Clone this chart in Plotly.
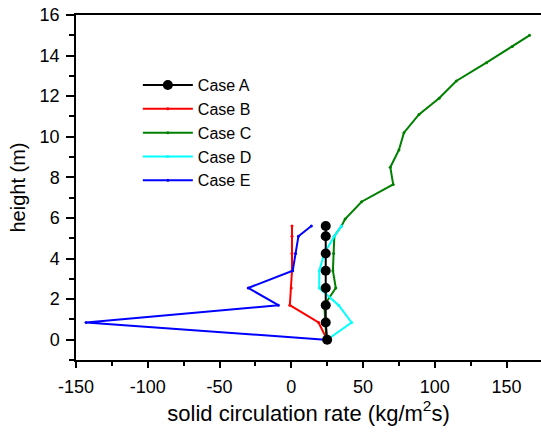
import plotly.graph_objects as go

heights_short = [0, 0.85, 1.7, 2.55, 3.4, 4.25, 5.1, 5.6]
case_a = [25, 24, 24, 24, 24, 24, 24, 24]
case_b = [25, 19, -1, 0, 0.5, 0.5, 0.5, 0.5]
case_d = [25, 42, 33, 19.5, 19.5, 23, 30, 35]
case_e = [23.5, -143, -9, -30, 1, 3, 5, 14]

heights_c = [0, 0.85, 1.7, 2.55, 3.4, 4.25, 5.1, 5.6, 5.95, 6.8, 7.65, 8.5,
             9.35, 10.2, 11.1, 11.9, 12.75, 13.65, 14.45, 15.0]
case_c = [24.5, 24, 23, 31, 29, 29.5, 30, 35, 37.5, 49, 71, 69,
          75, 78.5, 89, 103, 115, 136, 154, 166]

x_tickvals = [-150, -100, -50, 0, 50, 100, 150]
x_ticktext = ["-150", "-100", "-50", "0", "50", "100", "150"]
y_tickvals = [0, 2, 4, 6, 8, 10, 12, 14, 16]
y_ticktext = ["0", "2", "4", "6", "8", "10", "12", "14", "16"]

FONT = "Liberation Sans, Arial, sans-serif"

fig = go.Figure()
fig.add_trace(go.Scatter(x=case_b, y=heights_short, name="Case B", mode="lines+markers",
                         line=dict(color="#ff0000", width=2), marker=dict(size=3, color="#ff0000")))
fig.add_trace(go.Scatter(x=case_c, y=heights_c, name="Case C", mode="lines+markers",
                         line=dict(color="#008000", width=2), marker=dict(size=3, color="#008000")))
fig.add_trace(go.Scatter(x=case_d, y=heights_short, name="Case D", mode="lines+markers",
                         line=dict(color="#00ffff", width=2), marker=dict(size=3, color="#00ffff")))
fig.add_trace(go.Scatter(x=case_e, y=heights_short, name="Case E", mode="lines+markers",
                         line=dict(color="#0000ff", width=2), marker=dict(size=3, color="#0000ff")))
fig.add_trace(go.Scatter(x=case_a, y=heights_short, name="Case A", mode="lines+markers",
                         line=dict(color="#000000", width=2), marker=dict(size=10, color="#000000"),
                         legendrank=1))

fig.update_layout(
    width=541, height=432,
    margin=dict(l=76, r=0, t=15, b=72),
    paper_bgcolor="white", plot_bgcolor="white",
    font=dict(family=FONT, color="black", size=18),
    showlegend=True,
    legend=dict(x=0.133, y=0.846, xanchor="left", yanchor="top",
                bgcolor="rgba(0,0,0,0)", font=dict(size=16, family=FONT),
                traceorder="normal", itemwidth=50, tracegroupgap=0),
)
fig.update_xaxes(
    range=[-150, 174], showgrid=False, zeroline=False, automargin=False,
    showline=True, linecolor="black", linewidth=1.5, mirror=True,
    tickmode="array", tickvals=x_tickvals, ticktext=x_ticktext,
    ticks="outside", ticklen=6, tickwidth=1.5, tickcolor="black",
    minor=dict(ticks="outside", ticklen=4, tickwidth=1.5, tickcolor="black", dtick=25, tick0=-150),
    tickfont=dict(size=18, family=FONT), ticklabelstandoff=4,
    title=dict(text="solid circulation rate (kg/m<sup>2</sup>s)", font=dict(size=22, family=FONT), standoff=6),
)
fig.update_yaxes(
    range=[-1, 16], showgrid=False, zeroline=False, automargin=False,
    showline=True, linecolor="black", linewidth=1.5, mirror=False,
    tickmode="array", tickvals=y_tickvals, ticktext=y_ticktext,
    ticks="outside", ticklen=8, tickwidth=1.5, tickcolor="black",
    minor=dict(ticks="outside", ticklen=5, tickwidth=1.5, tickcolor="black", dtick=1, tick0=0),
    tickfont=dict(size=18, family=FONT), ticklabelstandoff=3,
    title=dict(text="height (m)", font=dict(size=20, family=FONT), standoff=9),
)

fig.write_html("out.html", config={"displayModeBar": False},
               post_script="document.body.style.margin='0';")
